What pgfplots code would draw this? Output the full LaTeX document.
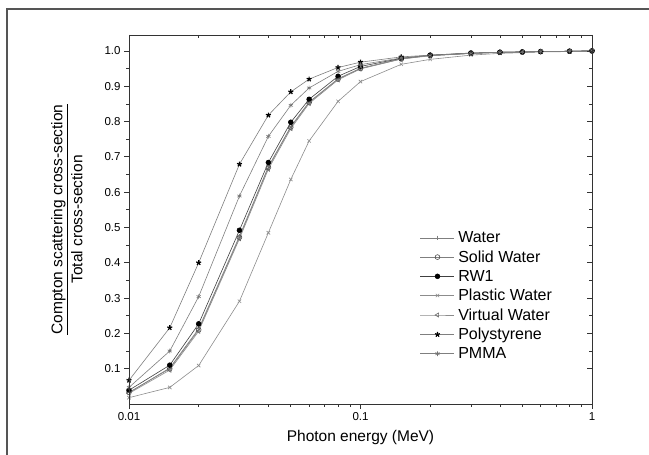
\documentclass[border=0pt]{standalone}
\usepackage{pgfplots}
\pgfplotsset{compat=1.18}
\usepackage{fontspec}
\setmainfont{Liberation Sans}

\definecolor{lngray}{HTML}{7F7F7F}
\definecolor{lndark}{HTML}{404040}
\definecolor{frmgray}{HTML}{555555}

\pgfplotsset{legend image code/.code={\draw[#1, mark repeat=2, mark phase=2] plot coordinates {(0pt,0pt) (17pt,0pt) (34pt,0pt)};}}

\begin{document}
\begin{tikzpicture}
\begin{axis}[
    at={(0,0)}, anchor=south west,
    scale only axis, width=463pt, height=369pt,
    xmode=log, xmin=0.01, xmax=1,
    ymin=0, ymax=1.045,
    ytick={0.1,0.2,0.3,0.4,0.5,0.6,0.7,0.8,0.9,1.0},
    minor y tick num=1,
    axis line style={black!80, line width=0.8pt},
    major tick length=5pt, minor tick length=3pt,
    tick style={black!80, line width=0.7pt},
    xtick pos=left, ytick pos=left, tick align=outside,
    xtick={0.01,0.1,1}, xticklabels={0.01,0.1,1},
    yticklabel style={/pgf/number format/fixed, /pgf/number format/fixed zerofill, /pgf/number format/precision=1},
    /pgf/number format/assume math mode=true,
    tick label style={font=\fontsize{11.5}{13}\selectfont},
    xlabel={Photon energy (MeV)},
    ylabel={\underline{Compton scattering cross-section}\\Total cross-section},
    label style={font=\fontsize{15.5}{20}\selectfont},
    xlabel style={at={(axis description cs:0.5,-0.092)}, anchor=center},
    ylabel style={at={(axis description cs:-0.134,0.5)}, anchor=center, align=center},
    legend style={draw=none, fill=none, at={(axis description cs:0.6285,0.473)}, anchor=north west,
      font=\fontsize{16}{17}\selectfont, row sep=2.4pt, inner sep=0pt,
      nodes={inner xsep=3.5pt}},
    legend cell align=left,
    every axis plot/.append style={line width=0.6pt, mark size=2.4pt},
]
% Water
\addplot[lngray, mark=+, mark options={solid, lngray}] coordinates {
(0.01,0.032) (0.015,0.102) (0.02,0.213) (0.03,0.475) (0.04,0.672) (0.05,0.786) (0.06,0.855) (0.08,0.921)
(0.1,0.951) (0.15,0.978) (0.2,0.987) (0.3,0.993) (0.4,0.996) (0.5,0.997) (0.6,0.998) (0.8,0.999) (1,1.0)};
\addlegendentry{Water}
% Solid Water
\addplot[lngray, mark=o, mark options={solid, black!70, fill=white}] coordinates {
(0.01,0.033) (0.015,0.100) (0.02,0.210) (0.03,0.472) (0.04,0.670) (0.05,0.784) (0.06,0.854) (0.08,0.920)
(0.1,0.950) (0.15,0.977) (0.2,0.987) (0.3,0.993) (0.4,0.996) (0.5,0.997) (0.6,0.998) (0.8,0.999) (1,1.0)};
\addlegendentry{Solid Water}
% RW1
\addplot[lndark, mark=*, mark options={solid, black, fill=black}] coordinates {
(0.01,0.039) (0.015,0.110) (0.02,0.227) (0.03,0.492) (0.04,0.684) (0.05,0.798) (0.06,0.863) (0.08,0.928)
(0.1,0.956) (0.15,0.979) (0.2,0.988) (0.3,0.994) (0.4,0.996) (0.5,0.997) (0.6,0.998) (0.8,0.999) (1,1.0)};
\addlegendentry{RW1}
% Plastic Water
\addplot[black!45, mark=x, mark options={solid, black!45}] coordinates {
(0.01,0.018) (0.015,0.047) (0.02,0.109) (0.03,0.291) (0.04,0.485) (0.05,0.636) (0.06,0.745) (0.08,0.857)
(0.1,0.913) (0.15,0.962) (0.2,0.976) (0.3,0.988) (0.4,0.993) (0.5,0.995) (0.6,0.997) (0.8,0.998) (1,0.999)};
\addlegendentry{Plastic Water}
% Virtual Water
\addplot[black!45, mark=triangle, mark options={solid, rotate=90, black!60, fill=white}] coordinates {
(0.01,0.030) (0.015,0.096) (0.02,0.206) (0.03,0.468) (0.04,0.665) (0.05,0.780) (0.06,0.851) (0.08,0.918)
(0.1,0.949) (0.15,0.977) (0.2,0.986) (0.3,0.993) (0.4,0.996) (0.5,0.997) (0.6,0.998) (0.8,0.999) (1,1.0)};
\addlegendentry{Virtual Water}
% Polystyrene
\addplot[lngray, mark=star, mark options={solid, black, line width=1.2pt}, mark size=2.6pt] coordinates {
(0.01,0.067) (0.015,0.216) (0.02,0.400) (0.03,0.679) (0.04,0.818) (0.05,0.884) (0.06,0.920) (0.08,0.953)
(0.1,0.968) (0.15,0.983) (0.2,0.988) (0.3,0.993) (0.4,0.996) (0.5,0.997) (0.6,0.998) (0.8,0.999) (1,1.0)};
\addlegendentry{Polystyrene}
% PMMA
\addplot[lngray, mark=asterisk, mark options={solid, black!55}] coordinates {
(0.01,0.047) (0.015,0.150) (0.02,0.304) (0.03,0.589) (0.04,0.758) (0.05,0.846) (0.06,0.895) (0.08,0.942)
(0.1,0.961) (0.15,0.980) (0.2,0.987) (0.3,0.993) (0.4,0.996) (0.5,0.997) (0.6,0.998) (0.8,0.999) (1,1.0)};
\addlegendentry{PMMA}
\end{axis}
% mirrored ticks pointing inward on top and right
\begin{axis}[
    at={(0,0)}, anchor=south west,
    scale only axis, width=463pt, height=369pt,
    xmode=log, xmin=0.01, xmax=1,
    ymin=0, ymax=1.045,
    ytick={0.1,0.2,0.3,0.4,0.5,0.6,0.7,0.8,0.9,1.0},
    minor y tick num=1,
    axis line style={black!80, line width=0.8pt},
    major tick length=5pt, minor tick length=3pt,
    tick style={black!80, line width=0.7pt},
    xtick pos=right, ytick pos=right, tick align=inside,
    xtick={0.01,0.1,1}, xticklabels={}, yticklabels={},
]
\end{axis}
\draw[frmgray, line width=1.8pt] (-122pt,-60pt) -- (-122pt,395pt) -- (530pt,395pt);
\pgfresetboundingbox
\useasboundingbox (-129pt,-51pt) rectangle (520pt,404pt);
\end{tikzpicture}
\end{document}
